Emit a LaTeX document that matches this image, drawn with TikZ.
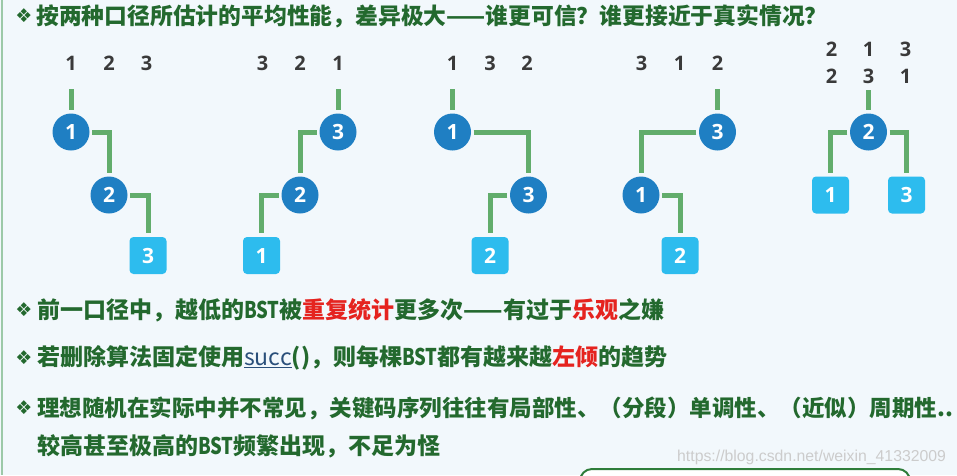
\documentclass[tikz,border=0pt]{standalone}
\usepackage{fontspec}
\usepackage{graphicx}
\setsansfont{Open Sans}
\newfontfamily\cjk{Noto Sans CJK SC}
\newfontfamily\symf{DejaVu Sans}
\newfontfamily\wmf{Liberation Sans}
\definecolor{cBg}{HTML}{F2F8FC}
\definecolor{cTxt}{HTML}{23692E}
\definecolor{cRed}{HTML}{E5231F}
\definecolor{cConn}{HTML}{62AD6C}
\definecolor{cCirc}{HTML}{1F7FC3}
\definecolor{cSq}{HTML}{2DBCEE}
\definecolor{cLab}{HTML}{3A3A3A}
\definecolor{cSucc}{HTML}{2A4F7A}
\definecolor{cEdge}{HTML}{9CC9A8}
\definecolor{cBox}{HTML}{2E7D3A}
\newcommand{\bstw}{\scalebox{0.8}[1]{BST}}
\newcommand{\rd}[1]{\textcolor{cRed}{#1}}
\begin{document}
\begin{tikzpicture}[x=1pt,y=-1pt,
  circnode/.style={circle, fill=cCirc, minimum size=37pt, inner sep=0pt, text=white, font=\sffamily\bfseries\fontsize{21}{21}\selectfont},
  sqnode/.style={rectangle, rounded corners=4pt, fill=cSq, minimum size=37pt, inner sep=0pt, text=white, font=\sffamily\bfseries\fontsize{21}{21}\selectfont},
  keylab/.style={text=cLab, inner sep=0pt, font=\sffamily\bfseries\fontsize{20}{20}\selectfont},
  conn/.style={draw=cConn, line width=5pt, shorten <=2.5pt, shorten >=3.5pt},
  stem/.style={draw=cConn, line width=5pt, shorten >=3.5pt},
  bul/.style={text=cTxt, inner sep=0pt, font=\symf\fontsize{19}{19}\selectfont},
  txt/.style={anchor=west, text=cTxt, inner sep=0pt, font=\cjk\bfseries\fontsize{23}{23}\selectfont},
  ttl/.style={anchor=west, text=cTxt, inner sep=0pt, font=\cjk\bfseries\fontsize{22.8}{22}\selectfont}
]
\useasboundingbox (0,0) rectangle (957,475);
\clip (0,0) rectangle (957,475);
\fill[cBg] (0,0) rectangle (957,475);
\draw[cEdge, line width=2pt] (1.5,0) -- (1.5,475);

% title
\node[bul] (b0) at (24,16) {❖};
\node[ttl] (t0) at (36,16) {按两种口径所估计的平均性能，差异极大——谁更可信？谁更接近于真实情况？};

% tree 1
\node[keylab] (k1a) at (71,63) {1};
\node[keylab] (k1b) at (109,63) {2};
\node[keylab] (k1c) at (146.5,63) {3};
\node[circnode] (t1a) at (71,132) {1};
\node[circnode] (t1b) at (109,195) {2};
\node[sqnode] (t1c) at (148,255.5) {3};
\draw[stem] ([yshift=-26pt]k1a.center) -- (t1a.north);
\draw[conn] (t1a.east) -| (t1b.north);
\draw[conn] (t1b.east) -| (t1c.north);

% tree 2
\node[keylab] (k2a) at (262.7,63) {3};
\node[keylab] (k2b) at (300,63) {2};
\node[keylab] (k2c) at (338,63) {1};
\node[circnode] (t2a) at (338,132) {3};
\node[circnode] (t2b) at (300,195) {2};
\node[sqnode] (t2c) at (261.5,255.5) {1};
\draw[stem] ([yshift=-26pt]k2c.center) -- (t2a.north);
\draw[conn] (t2a.west) -| (t2b.north);
\draw[conn] (t2b.west) -| (t2c.north);

% tree 3
\node[keylab] (k3a) at (452.5,63) {1};
\node[keylab] (k3b) at (490,63) {3};
\node[keylab] (k3c) at (527,63) {2};
\node[circnode] (t3a) at (452.5,132) {1};
\node[circnode] (t3b) at (528.5,195) {3};
\node[sqnode] (t3c) at (490,255.5) {2};
\draw[stem] ([yshift=-26pt]k3a.center) -- (t3a.north);
\draw[conn] (t3a.east) -| (t3b.north);
\draw[conn] (t3b.west) -| (t3c.north);

% tree 4
\node[keylab] (k4a) at (641.5,63) {3};
\node[keylab] (k4b) at (679.5,63) {1};
\node[keylab] (k4c) at (717.5,63) {2};
\node[circnode] (t4a) at (717.5,132) {3};
\node[circnode] (t4b) at (641,195) {1};
\node[sqnode] (t4c) at (680,255.5) {2};
\draw[stem] ([yshift=-26pt]k4c.center) -- (t4a.north);
\draw[conn] (t4a.west) -| (t4b.north);
\draw[conn] (t4b.east) -| (t4c.north);

% tree 5
\node[keylab] (k5a) at (831.5,49.5) {2};
\node[keylab] (k5b) at (868.5,49.5) {1};
\node[keylab] (k5c) at (905.5,49.5) {3};
\node[keylab] (k5d) at (831.5,76.5) {2};
\node[keylab] (k5e) at (868.5,76.5) {3};
\node[keylab] (k5f) at (905.5,76.5) {1};
\node[circnode] (t5a) at (868.5,132) {2};
\node[sqnode] (t5b) at (830.5,195) {1};
\node[sqnode] (t5c) at (906.5,195) {3};
\draw[stem] ([yshift=-13.5pt]k5e.center) -- (t5a.north);
\draw[conn] (t5a.west) -| (t5b.north);
\draw[conn] (t5a.east) -| (t5c.north);

% bullet lines
\node[bul] (b1) at (24,310) {❖};
\node[txt] (l1) at (37,310) {前一口径中，越低的\bstw 被\rd{重复统计}更多次——有过于\rd{乐观}之嫌};
\node[bul] (b2) at (24,358) {❖};
\node[txt] (l2) at (37,358) {若删除算法固定使用{\mdseries\textcolor{cSucc}{\underline{succ}}}()，则每棵\bstw 都有越来越\rd{左倾}的趋势};
\node[bul] (b3) at (24,408) {❖};
\node[txt, font=\cjk\bfseries\fontsize{22.5}{23}\selectfont] (l3) at (37,408) {理想随机在实际中并不常见，关键码序列往往有局部性、（分段）单调性、（近似）周期性..};
\node[txt] (l4) at (37,446) {较高甚至极高的\bstw 频繁出现，不足为怪};

% watermark
\node[anchor=west, inner sep=0pt, text=black!20, font=\wmf\fontsize{15.8}{16}\selectfont] (wm) at (677,457) {https://blog.csdn.net/weixin\_41332009};

% partial box at bottom
\draw[cBox, line width=2pt, fill=white, rounded corners=12pt] (580,469) rectangle (910,500);
\end{tikzpicture}
\end{document}
